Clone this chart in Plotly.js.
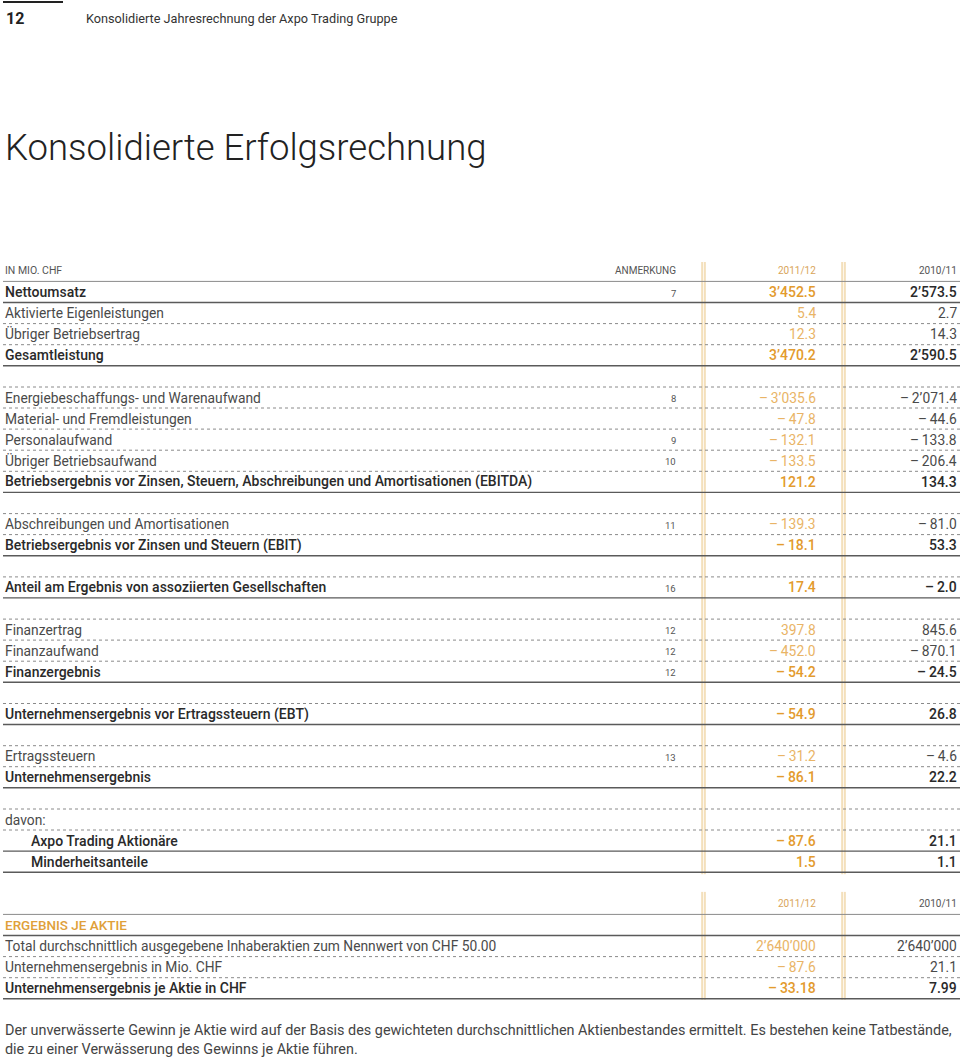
<!DOCTYPE html>
<html>
<head>
<meta charset="utf-8">
<script src="https://cdn.plot.ly/plotly-3.0.1.min.js"></script>
<style>html,body{margin:0;padding:0;background:#fff;}#chart{width:960px;height:1062px;}</style>
</head>
<body>
<div id="chart"></div>
<script>
// ---------- DATA ----------
const pageNumber = "12";
const runningHead = "Konsolidierte Jahresrechnung der Axpo Trading Gruppe";
const pageTitle = "Konsolidierte Erfolgsrechnung";
const headerLabels = ["IN MIO. CHF", "ANMERKUNG", "2011/12", "2010/11"];

const labels = [
  "Nettoumsatz",
  "Aktivierte Eigenleistungen",
  "Übriger Betriebsertrag",
  "Gesamtleistung",
  "Energiebeschaffungs- und Warenaufwand",
  "Material- und Fremdleistungen",
  "Personalaufwand",
  "Übriger Betriebsaufwand",
  "Betriebsergebnis vor Zinsen, Steuern, Abschreibungen und Amortisationen (EBITDA)",
  "Abschreibungen und Amortisationen",
  "Betriebsergebnis vor Zinsen und Steuern (EBIT)",
  "Anteil am Ergebnis von assoziierten Gesellschaften",
  "Finanzertrag",
  "Finanzaufwand",
  "Finanzergebnis",
  "Unternehmensergebnis vor Ertragssteuern (EBT)",
  "Ertragssteuern",
  "Unternehmensergebnis",
  "davon:",
  "Axpo Trading Aktionäre",
  "Minderheitsanteile"
];
const notes = ["7", "", "", "", "8", "", "9", "10", "", "11", "", "16", "12", "12", "12", "", "13", "", "", "", ""];
const fy2011_12 = [3452.5, 5.4, 12.3, 3470.2, -3035.6, -47.8, -132.1, -133.5, 121.2, -139.3, -18.1, 17.4, 397.8, -452.0, -54.2, -54.9, -31.2, -86.1, null, -87.6, 1.5];
const fy2010_11 = [2573.5, 2.7, 14.3, 2590.5, -2071.4, -44.6, -133.8, -206.4, 134.3, -81.0, 53.3, -2.0, 845.6, -870.1, -24.5, 26.8, -4.6, 22.2, null, 21.1, 1.1];

const epsTitle = "ERGEBNIS JE AKTIE";
const epsLabels = [
  "Total durchschnittlich ausgegebene Inhaberaktien zum Nennwert von CHF 50.00",
  "Unternehmensergebnis in Mio. CHF",
  "Unternehmensergebnis je Aktie in CHF"
];
const eps2011_12 = [2640000, -87.6, -33.18];
const eps2010_11 = [2640000, 21.1, 7.99];
const epsDecimals = [0, 1, 2];

const footnote = "Der unverwässerte Gewinn je Aktie wird auf der Basis des gewichteten durchschnittlichen Aktienbestandes ermittelt. Es bestehen keine Tatbestände,<br>die zu einer Verwässerung des Gewinns je Aktie führen.";

// ---------- LAYOUT / STYLE (not data) ----------
const rowSlot   = [0,1,2,3,5,6,7,8,9,11,12,14,16,17,18,20,22,23,25,26,27];
const rowBold   = [1,0,0,1,0,0,0,0,1,0,1,1,0,0,1,1,0,1,0,1,1];
const rowIndent = [0,0,0,0,0,0,0,0,0,0,0,0,0,0,0,0,0,0,0,1,1];
const rowAbove  = ["", "", "", "", "dot", "", "", "", "", "dot", "", "dot", "dot", "", "", "dot", "dot", "", "dot", "", ""];
const rowBelow  = ["solid","dot","dot","solid","dot","dot","dot","dot","solid","dot","solid","solid","dot","dot","solid","solid","dot","solid","dot","solid","solid"];
const epsSlot = [31, 32, 33];
const epsBold = [0, 0, 1];
const epsBelow = ["dot", "dot", "solid"];

const Y0 = 292, STEP = 21.1, HALF = 10.5;
const rowY = s => Y0 + STEP * s;
const X_LABEL = 3, X_NOTE = 678, X_C1 = 818, X_C2 = 959;
const GOLD = "#E9B466", GOLD_B = "#E39B2E", TXT = "#4a4a4a", TXT_B = "#2a2a2a";
const FONT = "Roboto, 'Liberation Sans', sans-serif";
const FONT_B = "'Roboto Medium', Roboto, 'Liberation Sans', sans-serif";
const FS = 13.8, FSB = 14;

function fmt(v, dec) {
  if (v === null || v === undefined) return "";
  const neg = v < 0;
  const s = Math.abs(v).toFixed(dec);
  let [ip, fp] = s.split(".");
  ip = ip.replace(/\B(?=(\d{3})+(?!\d))/g, "\u2019");
  return (neg ? "\u2013\u2009" : "") + ip + (fp ? "." + fp : "");
}

const ann = [];
const shapes = [];
function txt(x, y, text, opts) {
  ann.push(Object.assign({
    x: x, y: y, xref: "x", yref: "y", text: text, showarrow: false,
    xanchor: "left", yanchor: "middle",
    font: {family: FONT, size: FS, color: TXT}
  }, opts));
}
function rowFont(bold, color, colorB) {
  return bold ? {family: FONT_B, size: FSB, color: colorB, weight: 500}
              : {family: FONT, size: FS, color: color, weight: 400};
}
function hline(y, style) {
  const solid = style === "solid";
  shapes.push({type: "line", xref: "x", yref: "y", x0: X_LABEL, x1: 960, y0: y, y1: y,
    line: {color: solid ? "#5a5a5a" : "#8a8a8a", width: solid ? 1.4 : 1, dash: solid ? "solid" : "dot"}});
}
function goldV(x, y0, y1) {
  shapes.push({type: "rect", xref: "x", yref: "y", x0: x, x1: x + 3, y0: y0, y1: y1,
    fillcolor: "#FDF6EA", line: {width: 0}, layer: "below"});
  [x, x + 3].forEach(xx => shapes.push({type: "line", xref: "x", yref: "y", x0: xx, x1: xx, y0: y0, y1: y1,
    line: {color: "#EAC98C", width: 1}, layer: "below"}));
}

// running head
shapes.push({type: "line", xref: "x", yref: "y", x0: 3, x1: 63, y0: 2, y1: 2, line: {color: "#222", width: 2}});
txt(4, 18, pageNumber, {font: {family: FONT, size: 16, color: "#222", weight: 700}});
txt(84, 18, runningHead, {font: {family: FONT, size: 12.7, color: "#333"}});
txt(3, 147, pageTitle, {font: {family: FONT, size: 36.5, color: "#222", weight: 300}});

// header of main table
const hy = rowY(-1);
const hf = {family: FONT, size: 10, color: "#555"};
txt(X_LABEL, hy, headerLabels[0], {font: Object.assign({}, hf, {size: 10.5})});
txt(X_NOTE, hy, headerLabels[1], {font: hf, xanchor: "right"});
txt(X_C1, hy, headerLabels[2], {font: Object.assign({}, hf, {color: "#D9A55A"}), xanchor: "right"});
txt(X_C2, hy, headerLabels[3], {font: hf, xanchor: "right"});
shapes.push({type: "line", xref: "x", yref: "y", x0: X_LABEL, x1: 960, y0: hy + HALF, y1: hy + HALF, line: {color: "#8a8a8a", width: 1}});

labels.forEach((lab, i) => {
  const y = rowY(rowSlot[i]);
  const b = rowBold[i] === 1;
  txt(X_LABEL + (rowIndent[i] ? 26 : 0), y, lab, {font: rowFont(b, TXT, TXT_B)});
  if (notes[i]) txt(X_NOTE, y + 1, notes[i], {xanchor: "right", font: {family: FONT, size: 9.5, color: "#555"}});
  txt(X_C1, y, fmt(fy2011_12[i], 1), {xanchor: "right", font: rowFont(b, GOLD, GOLD_B)});
  txt(X_C2, y, fmt(fy2010_11[i], 1), {xanchor: "right", font: rowFont(b, TXT, TXT_B)});
  if (rowAbove[i]) hline(y - HALF, rowAbove[i]);
  hline(y + HALF, rowBelow[i]);
});

// EPS block
const ey = rowY(29);
txt(X_C1, ey, headerLabels[2], {font: Object.assign({}, hf, {color: "#D9A55A"}), xanchor: "right"});
txt(X_C2, ey, headerLabels[3], {font: hf, xanchor: "right"});
shapes.push({type: "line", xref: "x", yref: "y", x0: X_LABEL, x1: 960, y0: ey + HALF, y1: ey + HALF, line: {color: "#8a8a8a", width: 1}});
txt(X_LABEL, rowY(30), epsTitle, {font: {family: FONT_B, size: FS - 0.3, color: "#E0A03A", weight: 500}});
hline(rowY(30) + HALF, "solid");
epsLabels.forEach((lab, i) => {
  const y = rowY(epsSlot[i]);
  const b = epsBold[i] === 1;
  txt(X_LABEL, y, lab, {font: rowFont(b, TXT, TXT_B)});
  txt(X_C1, y, fmt(eps2011_12[i], epsDecimals[i]), {xanchor: "right", font: rowFont(b, GOLD, GOLD_B)});
  txt(X_C2, y, fmt(eps2010_11[i], epsDecimals[i]), {xanchor: "right", font: rowFont(b, TXT, TXT_B)});
  hline(y + HALF, epsBelow[i]);
});

// gold column separators
goldV(702, 262, rowY(27) + HALF + 2);
goldV(842, 262, rowY(27) + HALF + 2);
goldV(702, rowY(29) - 12, rowY(33) + HALF + 1);
goldV(842, rowY(29) - 12, rowY(33) + HALF + 1);

// footnote
ann.push({x: 3, y: 1040, xref: "x", yref: "y", text: footnote, showarrow: false, xanchor: "left", yanchor: "middle",
  align: "left", font: {family: FONT, size: 14.4, color: "#444"}});

const layout = {
  width: 960, height: 1062,
  margin: {l: 0, r: 0, t: 0, b: 0},
  paper_bgcolor: "#fff", plot_bgcolor: "#fff",
  xaxis: {range: [0, 960], visible: false, fixedrange: true},
  yaxis: {range: [1062, 0], visible: false, fixedrange: true},
  showlegend: false,
  annotations: ann,
  shapes: shapes
};
const trace = {x: [], y: [], type: "scatter", mode: "markers", hoverinfo: "skip"};
Plotly.newPlot("chart", [trace], layout, {staticPlot: true, displayModeBar: false});
</script>
</body>
</html>
